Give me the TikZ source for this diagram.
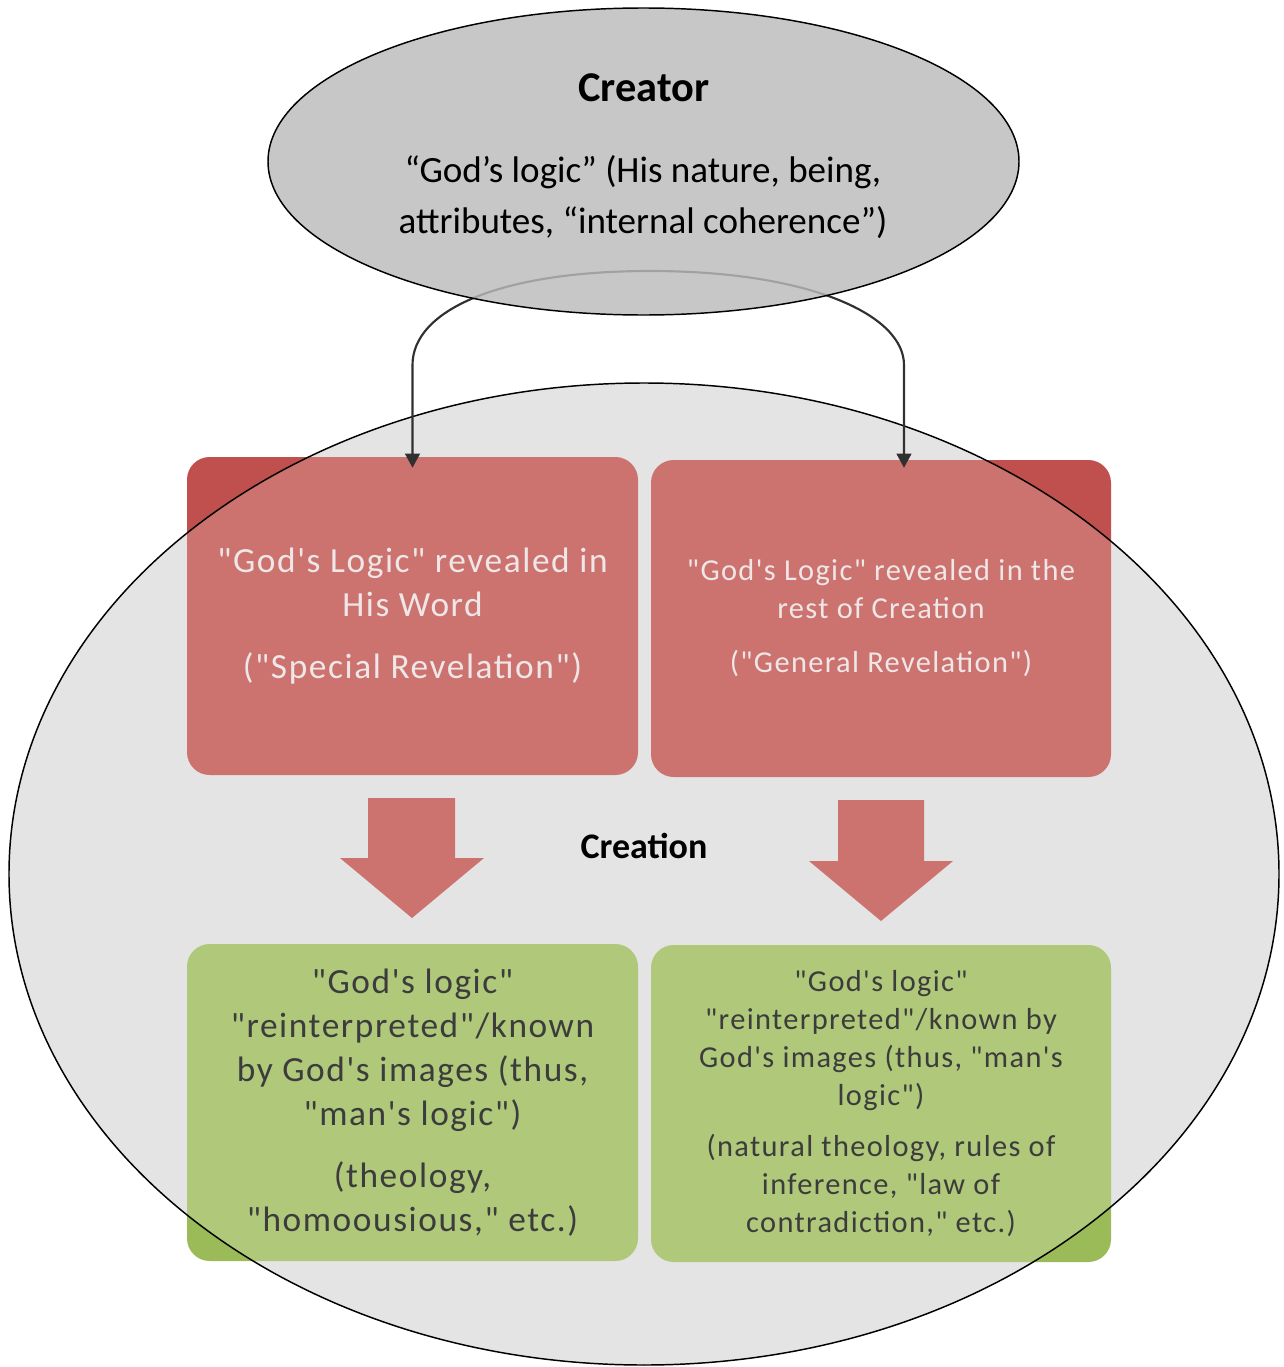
\documentclass[tikz,border=0pt]{standalone}
\usepackage{fontspec}
\setmainfont{Carlito}
\newfontfamily\boxfont[LetterSpace=4.5]{Carlito}
\usetikzlibrary{arrows.meta,calc,shapes.geometric}
\definecolor{boxred}{HTML}{C0504D}
\definecolor{boxgreen}{HTML}{9BBB59}
\definecolor{creationgray}{HTML}{DEDEDE}
\definecolor{creatorgray}{HTML}{BBBBBB}
\definecolor{redtext}{HTML}{EFE7E7}
\definecolor{greentext}{HTML}{3C3C3C}
\definecolor{connline}{HTML}{303030}
\tikzset{
  revbox/.style={rectangle, rounded corners=17pt, fill=boxred, inner sep=0pt},
  knowbox/.style={rectangle, rounded corners=17pt, fill=boxgreen, inner sep=0pt},
  bigtext/.style={align=center, text=redtext, font=\fontsize{26.5}{33}\boxfont},
  smalltext/.style={align=center, text=redtext, font=\fontsize{22.8}{28.5}\boxfont},
  conn/.style={draw=connline, line width=1.6pt, -{Triangle[length=10.5pt,width=11pt]}},
  blockarrow/.style={fill=boxred},
}
\begin{document}
\begin{tikzpicture}[x=0.75pt,y=-0.75pt]
\useasboundingbox (0,0) rectangle (1284,1367);
% big ellipse base
\node[ellipse, minimum width=1270*0.75pt, minimum height=982*0.75pt, inner sep=0pt, fill=creationgray] (creation) at (644,874) {};
% boxes
\node[revbox, minimum width=451*0.75pt, minimum height=318*0.75pt] (sr) at (412.5,616) {};
\node[revbox, minimum width=460*0.75pt, minimum height=317*0.75pt] (gr) at (881,618.5) {};
\node[knowbox, minimum width=451*0.75pt, minimum height=317*0.75pt] (ml) at (412.5,1102.5) {};
\node[knowbox, minimum width=460*0.75pt, minimum height=317*0.75pt] (mr) at (881,1103.5) {};
% block arrows
\fill[blockarrow] (368,798) -- (455,798) -- (455,858) -- (484,858) -- (412,918) -- (340,858) -- (368,858) -- cycle;
\fill[blockarrow] (838,800) -- (924,800) -- (924,861) -- (953,861) -- (881,921) -- (809,861) -- (838,861) -- cycle;
% overlay
\fill[white, opacity=0.2] (creation.center) ellipse [x radius=635, y radius=491];
% texts
\node[bigtext] (srtext) at (sr.center) {"God's Logic" revealed in\\His Word\\[13.5pt]("Special Revelation")};
\node[smalltext] (grtext) at (gr.center) {"God's Logic" revealed in the\\rest of Creation\\[12pt]("General Revelation")};
\node[bigtext, text=greentext] (mltext) at (ml.center) {"God's logic"\\"reinterpreted"/known\\by God's images (thus,\\"man's logic")\\[13.5pt](theology,\\"homoousious," etc.)};
\node[smalltext, text=greentext] (mrtext) at (mr.center) {"God's logic"\\"reinterpreted"/known by\\God's images (thus, "man's\\logic")\\[10pt](natural theology, rules of\\inference, "law of\\contradiction," etc.)};
\node[font=\fontsize{27}{32}\selectfont\bfseries] (creationlabel) at (644,846) {Creation};
% big ellipse outline
\draw[line width=1.1pt] (creation.center) ellipse [x radius=635, y radius=491];
% connectors
\coordinate (apex) at (650,271);
\draw[conn] (apex) .. controls (500,271) and (412.5,310) .. (412.5,365) -- ($(sr.north)+(0,11)$);
\draw[conn] (apex) .. controls (810,271) and (904,315) .. (904,365) -- ($(gr.north)+(23,8)$);
% creator ellipse
\node[ellipse, minimum width=751*0.75pt, minimum height=307*0.75pt, inner sep=0pt, fill=creatorgray, fill opacity=0.82, draw=black, line width=1.1pt] (creator) at (643.5,161.5) {};
\node[font=\fontsize{31.8}{36}\selectfont\bfseries] (creatorlabel) at (644,88) {Creator};
\node[align=center, font=\fontsize{27.8}{38.25}\selectfont] (creatortext) at (643,197) {“God’s logic” (His nature, being,\\attributes, “internal coherence”)};
\end{tikzpicture}
\end{document}
